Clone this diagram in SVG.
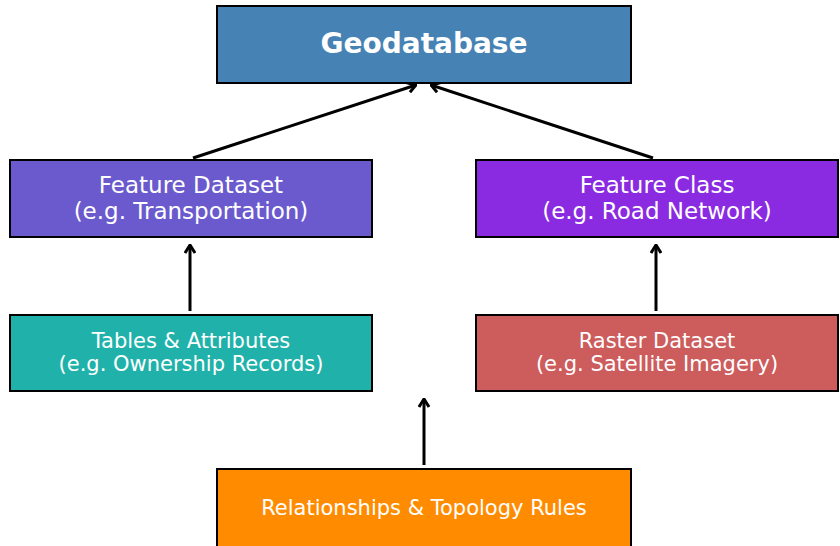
<svg xmlns="http://www.w3.org/2000/svg" width="840" height="546" viewBox="0 0 840 546">
<style>
.box{stroke:#000;stroke-width:2}
.t{font-family:"DejaVu Sans",sans-serif;fill:#fff;text-anchor:middle}
.big{font-size:23px}
.mid{font-size:21px}
.edge{stroke:#000;stroke-width:3;fill:none;marker-end:url(#ah)}
</style>
<defs>
<marker id="ah" viewBox="0 0 12 12" refX="11" refY="6" markerWidth="12" markerHeight="12" orient="auto" markerUnits="userSpaceOnUse">
<path d="M3,1 L11,6 L3,11" fill="none" stroke="#000" stroke-width="3"/>
</marker>
</defs>
<rect width="840" height="546" fill="#fff"/>
<g id="connectors">
<line class="edge" x1="193" y1="158" x2="416" y2="85"/>
<line class="edge" x1="653" y1="158" x2="431" y2="85"/>
<line class="edge" x1="190" y1="311" x2="190" y2="245"/>
<line class="edge" x1="656" y1="311" x2="656" y2="245"/>
<line class="edge" x1="424" y1="465" x2="424" y2="399"/>
</g>
<g id="geodatabase">
<rect class="box" x="217" y="6" width="414" height="77" fill="#4682B4"/>
<text class="t" x="424" y="53" font-size="28" font-weight="bold">Geodatabase</text>
</g>
<g id="feature-dataset">
<rect class="box" x="10" y="160" width="362" height="77" fill="#6A5ACD"/>
<text class="t big" x="191" y="193">Feature Dataset</text>
<text class="t big" x="191" y="219">(e.g. Transportation)</text>
</g>
<g id="feature-class">
<rect class="box" x="476" y="160" width="362" height="77" fill="#8A2BE2"/>
<text class="t big" x="657" y="193">Feature Class</text>
<text class="t big" x="657" y="219">(e.g. Road Network)</text>
</g>
<g id="tables">
<rect class="box" x="10" y="315" width="362" height="76" fill="#20B2AA"/>
<text class="t mid" x="191" y="348">Tables &amp; Attributes</text>
<text class="t mid" x="191" y="371">(e.g. Ownership Records)</text>
</g>
<g id="raster">
<rect class="box" x="476" y="315" width="362" height="76" fill="#CD5C5C"/>
<text class="t mid" x="657" y="348">Raster Dataset</text>
<text class="t mid" x="657" y="371">(e.g. Satellite Imagery)</text>
</g>
<g id="relationships">
<rect class="box" x="217" y="469" width="414" height="80" fill="#FF8C00"/>
<text class="t mid" x="424" y="515">Relationships &amp; Topology Rules</text>
</g>
</svg>
